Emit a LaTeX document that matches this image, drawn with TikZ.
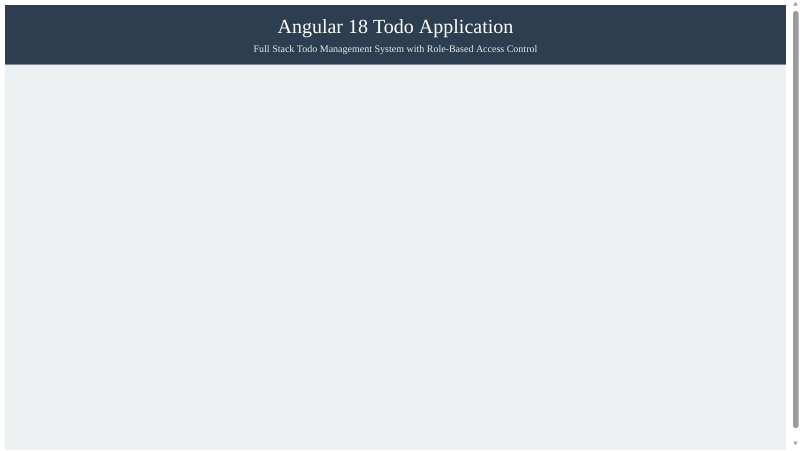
\documentclass[tikz,border=0pt]{standalone}
\usepackage{fontspec}
\setmainfont{Liberation Serif}
\definecolor{hdr}{HTML}{2C3E50}
\definecolor{bodybg}{HTML}{ECF0F1}
\definecolor{thumb}{HTML}{9A9A9A}
\definecolor{arrowc}{HTML}{A3A3A3}
\tikzset{
  titletext/.style={text=white,font=\fontsize{20}{24}\selectfont,inner sep=0pt},
  subtext/.style={text=white!88!hdr,font=\fontsize{10}{12}\selectfont,inner sep=0pt},
}
\begin{document}
\begin{tikzpicture}[x=1pt,y=-1pt]
\useasboundingbox (0,0) rectangle (800,450);
\fill[white] (0,0) rectangle (800,450);
% body
\fill[bodybg] (5,64) rectangle (786,449.5);
% header
\fill[hdr] (5,5) rectangle (786,64);
\draw[hdr!60!white,line width=0.6pt] (5,64) -- (786,64);
\node[titletext] (title) at (395.5,29) {Angular 18 Todo Application};
\node[subtext] (sub) at (395.5,50) {Full Stack Todo Management System with Role-Based Access Control};
% scrollbar
\fill[thumb,rounded corners=2.5pt] (793,11) rectangle (798.5,428);
\fill[arrowc] (793.2,5.5) -- (797.8,5.5) -- (795.5,1.8) -- cycle;
\fill[arrowc] (793.2,441.5) -- (797.8,441.5) -- (795.5,445.2) -- cycle;
\end{tikzpicture}
\end{document}
